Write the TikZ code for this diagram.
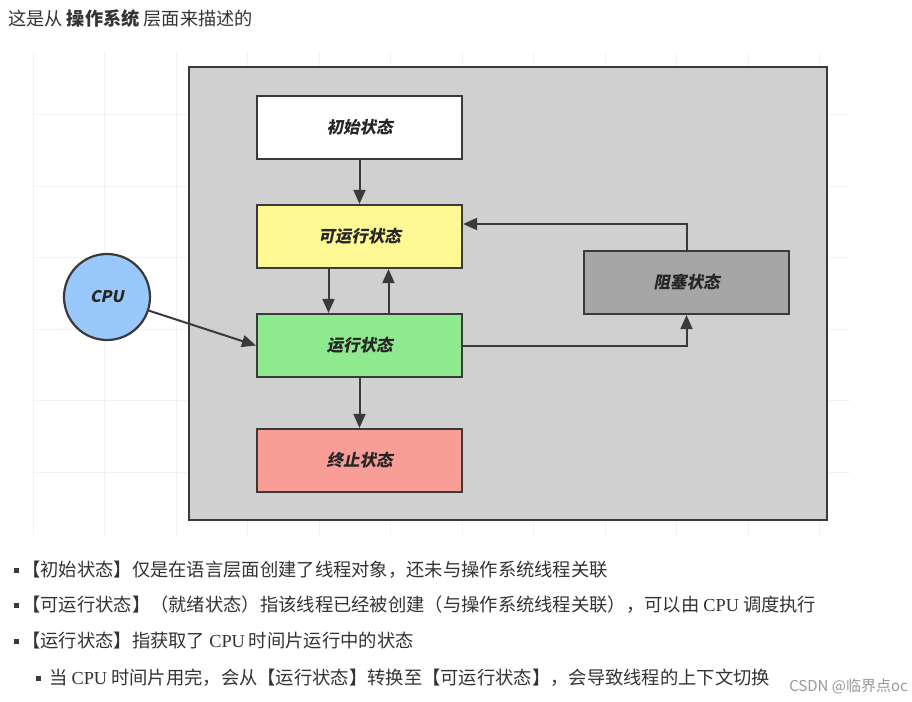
\documentclass[tikz,border=0pt]{standalone}
\usepackage{fontspec}
\usetikzlibrary{arrows.meta}
\newfontfamily\cjk{Noto Sans CJK SC}
\newfontfamily\statefont[FakeSlant=0.2]{Noto Sans CJK SC}
\newfontfamily\latserif{Liberation Serif}
\definecolor{osGray}{HTML}{D0D0D0}
\definecolor{lineDark}{HTML}{3A3A3A}
\definecolor{readyYellow}{HTML}{FFF995}
\definecolor{runGreen}{HTML}{8FE98F}
\definecolor{endRed}{HTML}{F99E97}
\definecolor{blockGray}{HTML}{A6A6A6}
\definecolor{cpuBlue}{HTML}{99C9FB}
\definecolor{textDark}{HTML}{333333}
\colorlet{gridGray}{black!5}
\NewDocumentCommand\SerifText{m}{{\latserif #1}}
\NewDocumentCommand\DrawBullet{mmmmO{6}}%
{%
\fill[lineDark] ({#2-2.5},{#3-2.5}) rectangle ({#2+2.5},{#3+2.5});%
\node[bullet] (#1) at ({#2+#5},{#3}) {#4};%
}

\begin{document}
\begin{tikzpicture}[x=1pt,y=-1pt,
  state/.style={draw=lineDark,line width=2.2pt,minimum width=205pt,minimum height=63pt,inner sep=0pt,text=black!85,font=\statefont\bfseries\fontsize{16.5}{18}\selectfont},
  flow/.style={draw=lineDark,line width=2pt,-{Triangle[length=14pt,width=12pt]}},
  bullet/.style={anchor=west,inner sep=0pt,text=textDark,font=\cjk\fontsize{18.3}{21}\selectfont}]
\useasboundingbox (0,0) rectangle (912,701);
\fill[white] (0,0) rectangle (912,701);
% faint grid behind the picture
\foreach \gx in {0,...,11}
	\draw[gridGray] ({33+71.5*\gx},52) -- ({33+71.5*\gx},535);
\foreach \gy in {114,186,257,329,400,472}
	\draw[gridGray] (33,\gy) -- (850,\gy);
% title
\node[anchor=west,inner sep=0pt,text=textDark,font=\cjk\fontsize{18.2}{21}\selectfont] (title) at (8,19) {这是从 {\bfseries 操作系统} 层面来描述的};
% operating system box
\draw[draw=lineDark,fill=osGray,line width=2.2pt] (189,67) rectangle (827,520);
\node[state,fill=white] (init) at (359.5,127.5) {初始状态};
\node[state,fill=readyYellow] (ready) at (359.5,236.5) {可运行状态};
\node[state,fill=runGreen] (run) at (359.5,345.5) {运行状态};
\node[state,fill=endRed] (term) at (359.5,460.5) {终止状态};
\node[state,fill=blockGray] (block) at (686.5,282.5) {阻塞状态};
\node[circle,draw=lineDark,line width=2.2pt,fill=cpuBlue,minimum size=86pt,inner sep=0pt,text=black!85,font=\statefont\bfseries\fontsize{16}{18}\selectfont] (cpu) at (107,297) {CPU};
\draw[flow] (init) -- (ready);
\draw[flow] ([xshift=-31pt]ready.south) -- ([xshift=-31pt]run.north);
\draw[flow] ([xshift=29pt]run.north) -- ([xshift=29pt]ready.south);
\draw[flow] (run) -- (term);
\draw[flow] (cpu) -- (run.west);
\draw[flow] (run.east) -| (block.south);
\draw[flow] (block.north) |- ([yshift=12.5pt]ready.east);
% notes below
\DrawBullet{noteA}{16}{570}{【初始状态】仅是在语言层面创建了线程对象，还未与操作系统线程关联}
\DrawBullet{noteB}{16}{605}{【可运行状态】（就绪状态）指该线程已经被创建（与操作系统线程关联），可以由 \SerifText{CPU} 调度执行}
\DrawBullet{noteC}{16}{641}{【运行状态】指获取了 \SerifText{CPU} 时间片运行中的状态}
\DrawBullet{noteD}{38}{678}{当 \SerifText{CPU} 时间片用完，会从【运行状态】转换至【可运行状态】，会导致线程的上下文切换}[11]
\node[anchor=east,inner sep=0pt,text=black!40,font=\cjk\fontsize{15}{17}\selectfont] (mark) at (908,686) {CSDN @临界点oc};
\end{tikzpicture}
\end{document}
